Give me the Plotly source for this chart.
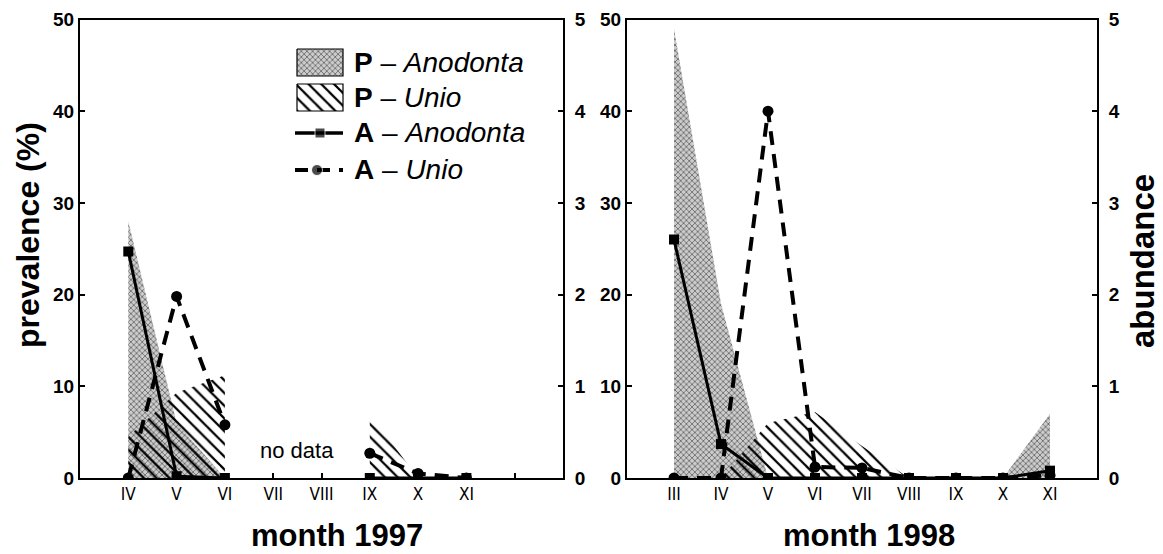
import plotly.graph_objects as go

W, H = 1163, 554

# ---------------- data ----------------
# 1997 (no data for VII, VIII -> two segments)
months_97_a = [4, 5, 6]
months_97_b = [9, 10, 11]
p_anodonta_97_a = [28, 6, 0]
p_anodonta_97_b = [0, 0, 0]
p_unio_97_a = [4.5, 9.3, 11.2]
p_unio_97_b = [7, 0, 0]
a_anodonta_97_a = [2.47, 0.02, 0.0]
a_anodonta_97_b = [0.0, 0.0, 0.0]
a_unio_97_a = [0.0, 1.98, 0.58]
a_unio_97_b = [0.27, 0.05, 0.0]

# 1998
months_98 = [3, 4, 5, 6, 7, 8, 9, 10, 11]
p_anodonta_98 = [49, 19, 0, 0, 0, 0, 0, 0, 7]
p_unio_98 = [0, 0, 6, 7.2, 3.5, 0, 0, 0, 0]
a_anodonta_98 = [2.6, 0.37, 0, 0, 0, 0, 0, 0, 0.08]
a_unio_98 = [0, 0, 4.0, 0.12, 0.11, 0, 0, 0, 0.03]

tickvals_97 = [4, 5, 6, 7, 8, 9, 10, 11, 12]
ticktext_97 = ["IV", "V", "VI", "VII", "VIII", "IX", "X", "XI", ""]
tickvals_98 = [3, 4, 5, 6, 7, 8, 9, 10, 11]
ticktext_98 = ["III", "IV", "V", "VI", "VII", "VIII", "IX", "X", "XI"]

legend_labels = ["<b>P</b> – <i>Anodonta</i>", "<b>P</b> – <i>Unio</i>",
                 "<b>A</b> – <i>Anodonta</i>", "<b>A</b> – <i>Unio</i>"]

# ---------------- styles ----------------
FONT = "Liberation Sans, Arial, sans-serif"
NARROW = "Liberation Sans Narrow, DejaVu Sans Condensed, Liberation Sans, sans-serif"
stipple = dict(shape="x", size=4, solidity=0.3, fgcolor="#4a4a4a",
               bgcolor="#cccccc", fillmode="replace")
hatch = dict(shape="\\", size=9, solidity=0.25, fgcolor="black",
             bgcolor="rgba(0,0,0,0)", fillmode="replace")
solid_line = dict(color="black", width=3)
dash_line = dict(color="black", width=4, dash="14px,9px")
sq_marker = dict(symbol="square", size=10, color="black")
ci_marker = dict(symbol="circle", size=11, color="black")

fig = go.Figure()


def area(x, y, xa, ya, pattern):
    fig.add_trace(go.Scatter(x=x, y=y, xaxis=xa, yaxis=ya, mode="none",
                             fill="tozeroy", fillpattern=pattern,
                             showlegend=False, hoverinfo="skip"))


def line(x, y, xa, ya, ln, mk):
    fig.add_trace(go.Scatter(x=x, y=y, xaxis=xa, yaxis=ya, mode="lines+markers",
                             line=ln, marker=mk, showlegend=False))


# left panel (1997)
area(months_97_a, p_anodonta_97_a, "x", "y", stipple)
area(months_97_b, p_anodonta_97_b, "x", "y", stipple)
area(months_97_a, p_unio_97_a, "x", "y", hatch)
area(months_97_b, p_unio_97_b, "x", "y", hatch)
line(months_97_a, a_unio_97_a, "x", "y2", dash_line, ci_marker)
line(months_97_b, a_unio_97_b, "x", "y2", dash_line, ci_marker)
line(months_97_a, a_anodonta_97_a, "x", "y2", solid_line, sq_marker)
line(months_97_b, a_anodonta_97_b, "x", "y2", solid_line, sq_marker)

# right panel (1998)
area(months_98, p_anodonta_98, "x2", "y3", stipple)
area(months_98, p_unio_98, "x2", "y3", hatch)
line(months_98, a_unio_98, "x2", "y4", dash_line, ci_marker)
line(months_98, a_anodonta_98, "x2", "y4", solid_line, sq_marker)

# ---------------- custom legend (pixel-space helper axis) ----------------
LX0, LX1, LY0, LY1 = 290, 350, 40, 185
rows_y = [62.5, 97.5, 133, 170]
sw_x0, sw_x1 = 297, 343
sw_h = 13.5
for yc, pat in zip(rows_y[:2], [stipple, hatch]):
    fig.add_trace(go.Scatter(
        x=[sw_x0, sw_x1, sw_x1, sw_x0, sw_x0],
        y=[yc - sw_h, yc - sw_h, yc + sw_h, yc + sw_h, yc - sw_h],
        xaxis="x3", yaxis="y5", mode="lines", fill="toself", fillpattern=pat,
        line=dict(color="black", width=1.2), showlegend=False, hoverinfo="skip"))
fig.add_trace(go.Scatter(x=[295, 320, 343], y=[rows_y[2]] * 3, xaxis="x3", yaxis="y5",
                         mode="lines+markers", line=dict(color="black", width=3.5),
                         marker=dict(symbol="square", size=[0, 10, 0], color="black"),
                         showlegend=False, hoverinfo="skip"))
fig.add_trace(go.Scatter(x=[295, 317, 343], y=[rows_y[3]] * 3, xaxis="x3", yaxis="y5",
                         mode="lines+markers",
                         line=dict(color="black", width=4, dash="13px,9px"),
                         marker=dict(symbol="circle", size=[0, 11, 0], color="black"),
                         showlegend=False, hoverinfo="skip"))

annotations = []
for yc, lab in zip(rows_y, legend_labels):
    annotations.append(dict(x=352 / W, y=1 - yc / H, xref="paper", yref="paper",
                            text=lab, showarrow=False, xanchor="left", yanchor="middle",
                            font=dict(family=FONT, size=28, color="black")))

annotations += [
    dict(x=28 / W, y=1 - 235 / H, xref="paper", yref="paper", text="<b>prevalence (%)</b>",
         textangle=-90, showarrow=False, xanchor="center", yanchor="middle",
         font=dict(family=FONT, size=32, color="black")),
    dict(x=1142 / W, y=1 - 261 / H, xref="paper", yref="paper", text="<b>abundance</b>",
         textangle=-90, showarrow=False, xanchor="center", yanchor="middle",
         font=dict(family=FONT, size=33, color="black")),
    dict(x=337 / W, y=1 - 535 / H, xref="paper", yref="paper", text="<b>month 1997</b>",
         showarrow=False, xanchor="center", yanchor="middle",
         font=dict(family=FONT, size=31, color="black")),
    dict(x=869 / W, y=1 - 535 / H, xref="paper", yref="paper", text="<b>month 1998</b>",
         showarrow=False, xanchor="center", yanchor="middle",
         font=dict(family=FONT, size=31, color="black")),
    dict(x=7.5, y=3, xref="x", yref="y", text="no data", showarrow=False,
         xanchor="center", yanchor="middle",
         font=dict(family=FONT, size=22, color="black")),
]

ydom = [1 - 478 / H, 1 - 19.5 / H]
xcommon = dict(showline=True, linecolor="black", linewidth=2, mirror=True,
               ticks="inside", ticklen=5, tickwidth=1.5, tickcolor="black",
               showgrid=False, zeroline=False, automargin=False,
               tickfont=dict(family=NARROW, size=17, color="black"))
ycommon = dict(showline=True, linecolor="black", linewidth=2,
               ticks="inside", ticklen=5, tickwidth=1.5, tickcolor="black",
               showgrid=False, zeroline=False, domain=ydom, automargin=False,
               tickfont=dict(family=FONT, size=19, color="black", weight="bold"))

fig.update_layout(
    width=W, height=H, margin=dict(l=0, r=0, t=0, b=0, autoexpand=False),
    paper_bgcolor="white", plot_bgcolor="rgba(0,0,0,0)",
    showlegend=False,
    xaxis=dict(domain=[80 / W, 563 / W], range=[3, 13], anchor="y",
               tickvals=tickvals_97, ticktext=ticktext_97, **xcommon),
    xaxis2=dict(domain=[627 / W, 1097 / W], range=[2, 12], anchor="y3",
                tickvals=tickvals_98, ticktext=ticktext_98, **xcommon),
    xaxis3=dict(domain=[LX0 / W, LX1 / W], range=[LX0, LX1], anchor="y5",
                visible=False, fixedrange=True, automargin=False),
    yaxis=dict(range=[0, 50], anchor="x", tickvals=[0, 10, 20, 30, 40, 50],
               side="left", **ycommon),
    yaxis2=dict(range=[0, 5], anchor="x", overlaying="y", side="right",
                tickvals=[0, 1, 2, 3, 4, 5], ticklabelstandoff=6, **ycommon),
    yaxis3=dict(range=[0, 50], anchor="x2", tickvals=[0, 10, 20, 30, 40, 50],
                side="left", **ycommon),
    yaxis4=dict(range=[0, 5], anchor="x2", overlaying="y3", side="right",
                tickvals=[0, 1, 2, 3, 4, 5], ticklabelstandoff=6, **ycommon),
    yaxis5=dict(domain=[1 - LY1 / H, 1 - LY0 / H], range=[LY1, LY0], anchor="x3",
                visible=False, fixedrange=True, automargin=False),
    annotations=annotations,
)

fig.write_html("out.html", config={"displayModeBar": False},
               post_script="document.body.style.margin='0';document.body.style.overflow='hidden';")
